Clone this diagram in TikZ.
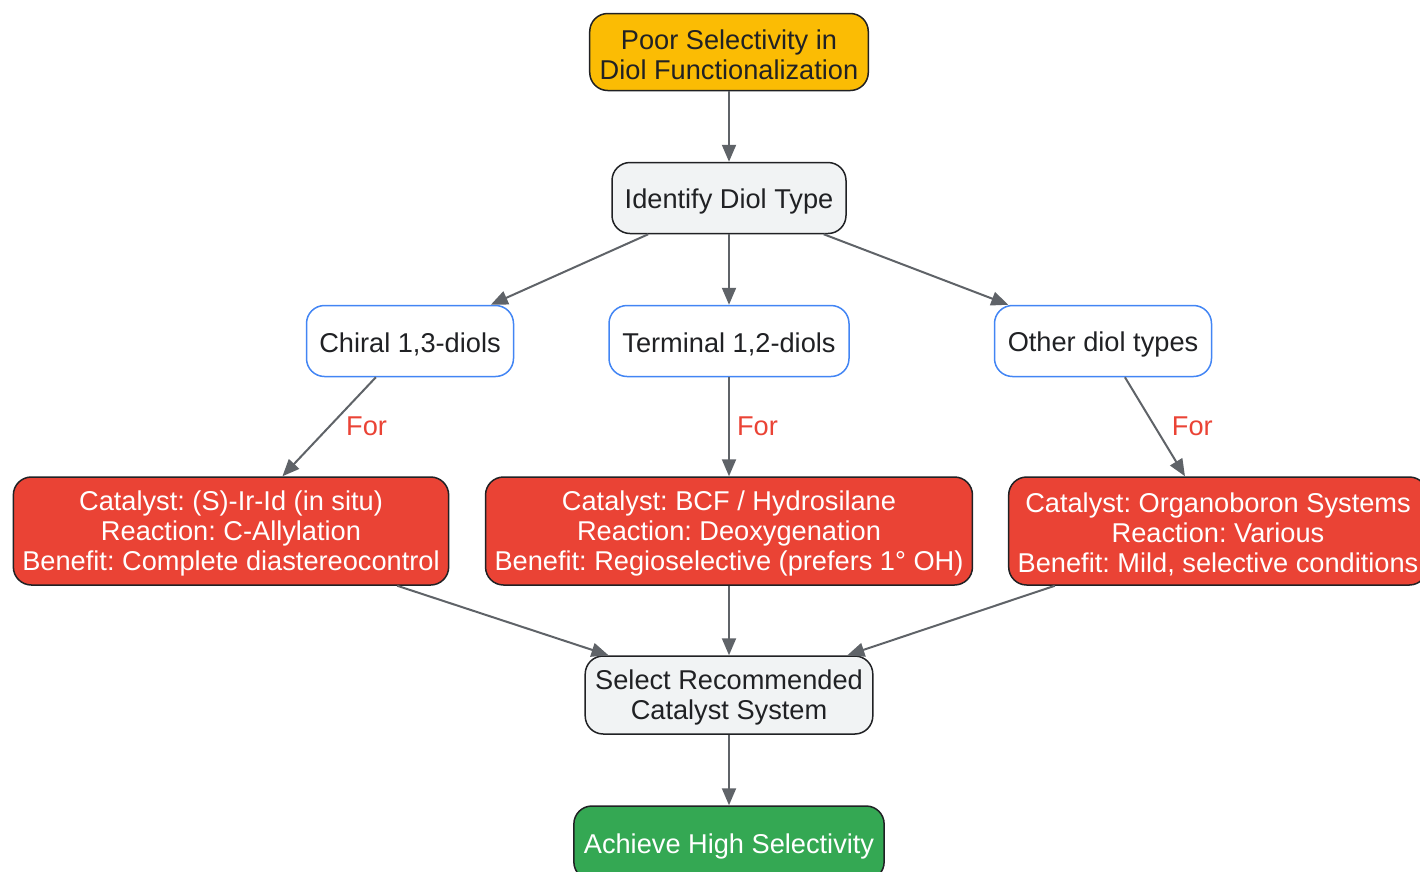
\documentclass[tikz,border=0pt]{standalone}
\usepackage{fontspec}
\setmainfont{Liberation Sans}
\usetikzlibrary{arrows.meta}
\usetikzlibrary{shapes}
\definecolor{StartYellow}{HTML}{FBBC04}
\definecolor{StepGray}{HTML}{F1F3F4}
\definecolor{TypeBlue}{HTML}{4285F4}
\definecolor{CatRed}{HTML}{EA4335}
\definecolor{GoalGreen}{HTML}{34A853}
\definecolor{EdgeGray}{HTML}{5F6368}
\definecolor{InkDark}{HTML}{202124}
\frenchspacing
\newcommand{\TopLine}{\rule{0pt}{25.5pt}}
\tikzstyle{BaseNode}=[rectangle, rounded corners=18pt, draw=InkDark, line width=1.5pt, align=center, inner xsep=10pt, text=InkDark, font=\fontsize{27.2}{30}\selectfont, execute at begin node=\rule{0pt}{27pt}]
\tikzstyle{StartNode}=[BaseNode, fill=StartYellow, minimum height=77pt]
\tikzstyle{StepNode}=[BaseNode, fill=StepGray, minimum height=71pt]
\tikzstyle{TypeNode}=[BaseNode, draw=TypeBlue, fill=white, minimum height=71pt]
\tikzstyle{CatNode}=[BaseNode, fill=CatRed, text=white, minimum height=108pt, inner xsep=9pt]
\tikzstyle{GoalNode}=[BaseNode, fill=GoalGreen, text=white, minimum height=74pt]
\tikzstyle{FlowEdge}=[-{Triangle[length=17pt, width=14pt]}, line width=2pt, draw=EdgeGray]
\tikzstyle{ForLabel}=[text=CatRed, font=\fontsize{27.2}{30}\selectfont, inner sep=0pt]

\begin{document}
\begin{tikzpicture}[x=1pt, y=-1pt]
\useasboundingbox (0,0) rectangle (1420,871);
\node[StartNode](POOR) at (729,52) {\TopLine Poor Selectivity in\\Diol Functionalization};
\node[StepNode, minimum width=234pt](IDENT) at (729,198) {Identify Diol Type};
\node[TypeNode, minimum width=207pt](CHIRAL) at (410,341) {Chiral 1,3-diols};
\node[TypeNode, minimum width=240pt](TERM) at (729,341) {Terminal 1,2-diols};
\node[TypeNode, minimum width=217pt](OTHER) at (1103,341) {Other diol types};
\node[CatNode](CATA) at (231,531) {\TopLine Catalyst: (S)-Ir-Id (in situ)\\Reaction: C-Allylation\\Benefit: Complete diastereocontrol};
\node[CatNode](CATB) at (729,531) {\TopLine Catalyst: BCF / Hydrosilane\\Reaction: Deoxygenation\\Benefit: Regioselective (prefers 1° OH)};
\node[CatNode](CATC) at (1218,531) {\TopLine Catalyst: Organoboron Systems\\Reaction: Various\\Benefit: Mild, selective conditions};
\node[StepNode, minimum height=78pt](SELECT) at (729,695) {\TopLine Select Recommended\\Catalyst System};
\node[GoalNode](GOAL) at (729,843) {Achieve High Selectivity};

\draw[FlowEdge](POOR) -- (IDENT);
\draw[FlowEdge](IDENT) -- (CHIRAL);
\draw[FlowEdge](IDENT) -- (TERM);
\draw[FlowEdge](IDENT) -- (OTHER);
\draw[FlowEdge](CHIRAL) -- node[ForLabel, anchor=west, xshift=16pt]{For} (CATA);
\draw[FlowEdge](TERM) -- node[ForLabel, anchor=west, xshift=7pt]{For} (CATB);
\draw[FlowEdge](OTHER) -- node[ForLabel, anchor=west, xshift=16pt]{For} (CATC);
\draw[FlowEdge](CATA) -- (SELECT);
\draw[FlowEdge](CATB) -- (SELECT);
\draw[FlowEdge](CATC) -- (SELECT);
\draw[FlowEdge](SELECT) -- (GOAL);
\end{tikzpicture}
\end{document}
